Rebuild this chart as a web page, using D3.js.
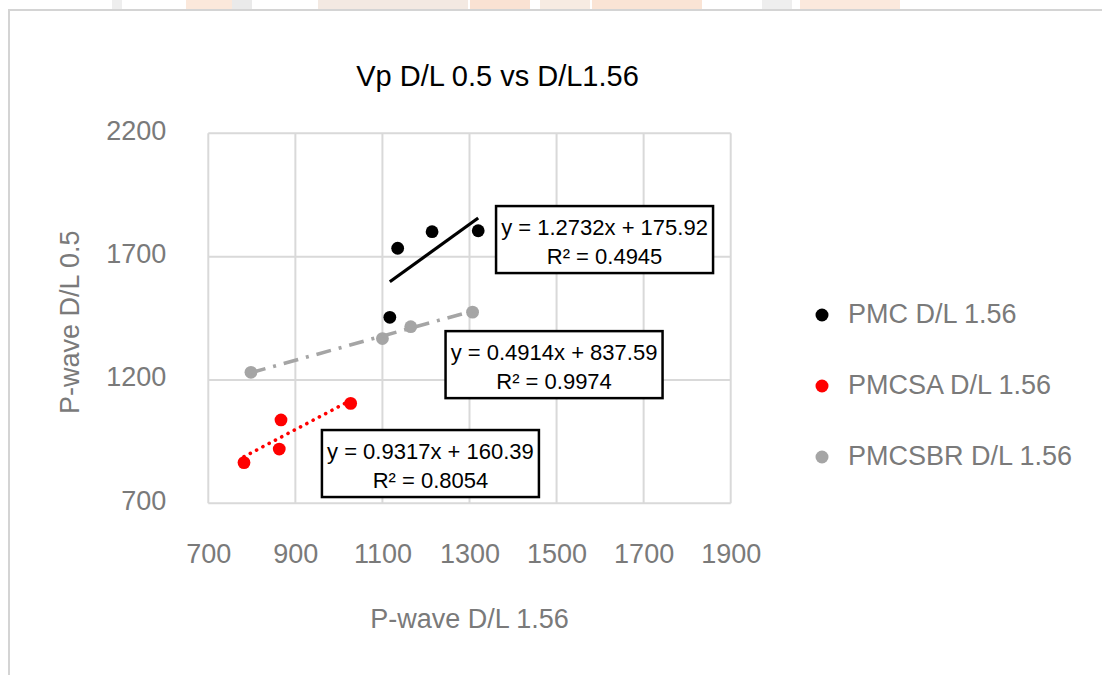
<!DOCTYPE html>
<html>
<head>
<meta charset="utf-8">
<script src="https://cdn.jsdelivr.net/npm/d3@7"></script>
<style>
  html, body { margin: 0; padding: 0; background: #ffffff; }
  svg { display: block; }
  text { font-family: "Liberation Sans", Arial, sans-serif; }
</style>
</head>
<body>
<svg id="chart" width="1102" height="675"></svg>
<script>
// ---- data ----
const seriesNames = ["PMC D/L 1.56", "PMCSA D/L 1.56", "PMCSBR D/L 1.56"];

// P-wave D/L 1.56 (x) vs P-wave D/L 0.5 (y)
const pmcX    = [1117, 1135, 1214, 1320];
const pmcY    = [1454, 1734, 1801, 1805];
const pmcsaX  = [782, 863, 867, 1027];
const pmcsaY  = [865, 920, 1038, 1105];
const pmcsbrX = [798, 1100, 1165, 1307];
const pmcsbrY = [1231, 1368, 1416, 1475];

// linear trend coefficients and R² as printed on the chart
const slopes     = [1.2732, 0.9317, 0.4914];
const intercepts = [175.92, 160.39, 837.59];
const rSquared   = ["0.4945", "0.8054", "0.9974"];

const xTicks = [700, 900, 1100, 1300, 1500, 1700, 1900];
const yTicks = [700, 1200, 1700, 2200];

const chartTitle = "Vp D/L 0.5 vs D/L1.56";
const xTitle = "P-wave D/L 1.56";
const yTitle = "P-wave D/L 0.5";

// ---- styling / layout ----
const colors = ["#000000", "#ff0000", "#a5a5a5"];
const trendDash = [null, "0.1,7", "15,8,3,8"];
const gridColor = "#d9d9d9";
const labelColor = "#7a7a7a";

// upper-left corner of each equation box, in data units
const eqAnchors = [[1361, 1905], [961, 997], [1245, 1398]];
const eqBox = { w: 217, h: 67 };

const svg = d3.select("#chart");
const W = 1102, H = 675;

svg.append("rect").attr("width", W).attr("height", H).attr("fill", "#ffffff");

// faint page header artwork bleeding in above the frame
const header = svg.append("g").attr("opacity", 0.3);
[
  [112, 10, "#c8c8c8"], [186, 64, "#f2b48c"], [232, 20, "#bdbdbd"],
  [318, 150, "#d8b8a0"], [470, 60, "#f0a070"], [540, 50, "#e8c0a0"],
  [592, 110, "#f0a878"], [762, 30, "#c8c8c8"], [800, 100, "#f2b890"]
].forEach(([x, w, c]) => {
  header.append("rect").attr("x", x).attr("y", 0).attr("width", w).attr("height", 9).attr("fill", c);
});

// page frame
svg.append("path")
  .attr("d", "M9,675 V10 H1102")
  .attr("fill", "none")
  .attr("stroke", "#d4d4d4")
  .attr("stroke-width", 2);

const plot = { left: 208.3, right: 730.7, top: 133.3, bottom: 503.3 };

const x = d3.scaleLinear().domain([700, 1900]).range([plot.left, plot.right]);
const y = d3.scaleLinear().domain([700, 2200]).range([plot.bottom, plot.top]);

// gridlines
const grid = svg.append("g").attr("stroke", gridColor).attr("stroke-width", 2);
grid.selectAll("line.v").data(xTicks).join("line").attr("class", "v")
  .attr("x1", d => x(d)).attr("x2", d => x(d))
  .attr("y1", y(2200)).attr("y2", y(700));
grid.selectAll("line.h").data(yTicks).join("line").attr("class", "h")
  .attr("x1", x(700)).attr("x2", x(1900))
  .attr("y1", d => y(d)).attr("y2", d => y(d));

// axes (labels only)
const xAxis = svg.append("g")
  .attr("transform", `translate(0,${plot.bottom})`)
  .call(d3.axisBottom(x).tickValues(xTicks).tickSize(0).tickPadding(41).tickFormat(d3.format("d")));
const yAxis = svg.append("g")
  .attr("transform", `translate(${plot.left},0)`)
  .call(d3.axisLeft(y).tickValues(yTicks).tickSize(0).tickPadding(42).tickFormat(d3.format("d")));
[xAxis, yAxis].forEach(a => {
  a.select(".domain").remove();
  a.selectAll("text")
    .attr("fill", labelColor)
    .style("font-size", "27px")
    .style("font-family", "'Liberation Sans', Arial, sans-serif");
});
yAxis.selectAll("text").attr("dy", "0.22em");

// series
const series = [
  { name: seriesNames[0], xs: pmcX, ys: pmcY },
  { name: seriesNames[1], xs: pmcsaX, ys: pmcsaY },
  { name: seriesNames[2], xs: pmcsbrX, ys: pmcsbrY }
];

const line = d3.line().x(d => x(d[0])).y(d => y(d[1]));

// draw order: PMCSBR, PMCSA, PMC so black sits on top
const order = [2, 1, 0];
order.forEach(i => {
  const s = series[i];
  const pts = s.xs.map((v, k) => [v, s.ys[k]]);
  const g = svg.append("g");
  g.selectAll("circle").data(pts).join("circle")
    .attr("cx", d => x(d[0])).attr("cy", d => y(d[1]))
    .attr("r", 6.4).attr("fill", colors[i]);
  const [x0, x1] = d3.extent(s.xs);
  const tl = [[x0, slopes[i] * x0 + intercepts[i]], [x1, slopes[i] * x1 + intercepts[i]]];
  const path = g.append("path").datum(tl)
    .attr("d", line)
    .attr("fill", "none")
    .attr("stroke", colors[i])
    .attr("stroke-width", i === 0 ? 3.2 : 3.6);
  if (trendDash[i]) path.attr("stroke-dasharray", trendDash[i]);
  if (i === 1) path.attr("stroke-linecap", "round");
});

// equation boxes
series.forEach((s, i) => {
  const bx = x(eqAnchors[i][0]), by = y(eqAnchors[i][1]);
  const g = svg.append("g").attr("transform", `translate(${bx},${by})`);
  g.append("rect").attr("width", eqBox.w).attr("height", eqBox.h)
    .attr("fill", "#ffffff").attr("stroke", "#000000").attr("stroke-width", 2.5);
  const eq = `y = ${slopes[i].toFixed(4)}x + ${intercepts[i].toFixed(2)}`;
  g.append("text").attr("x", eqBox.w / 2).attr("y", 28.5)
    .attr("text-anchor", "middle").attr("fill", "#000000")
    .style("font-size", "22px").text(eq);
  g.append("text").attr("x", eqBox.w / 2).attr("y", 57.5)
    .attr("text-anchor", "middle").attr("fill", "#000000")
    .style("font-size", "22px").text(`R² = ${rSquared[i]}`);
});

// title
svg.append("text")
  .attr("x", 497.5).attr("y", 86)
  .attr("text-anchor", "middle")
  .attr("fill", "#000000")
  .style("font-size", "29px")
  .text(chartTitle);

// axis titles
svg.append("text")
  .attr("x", (plot.left + plot.right) / 2).attr("y", 628)
  .attr("text-anchor", "middle").attr("fill", labelColor)
  .style("font-size", "27px").text(xTitle);
svg.append("text")
  .attr("transform", `translate(79,${(plot.top + plot.bottom) / 2 + 4}) rotate(-90)`)
  .attr("text-anchor", "middle").attr("fill", labelColor)
  .style("font-size", "27px").text(yTitle);

// legend
const legend = svg.append("g").attr("transform", "translate(822,315)");
seriesNames.forEach((n, i) => {
  const row = legend.append("g").attr("transform", `translate(0,${i * 71})`);
  row.append("circle").attr("r", 6.5).attr("fill", colors[i]);
  row.append("text").attr("x", 26).attr("y", 7.5)
    .attr("fill", labelColor).style("font-size", "27px").text(n);
});
</script>
</body>
</html>
